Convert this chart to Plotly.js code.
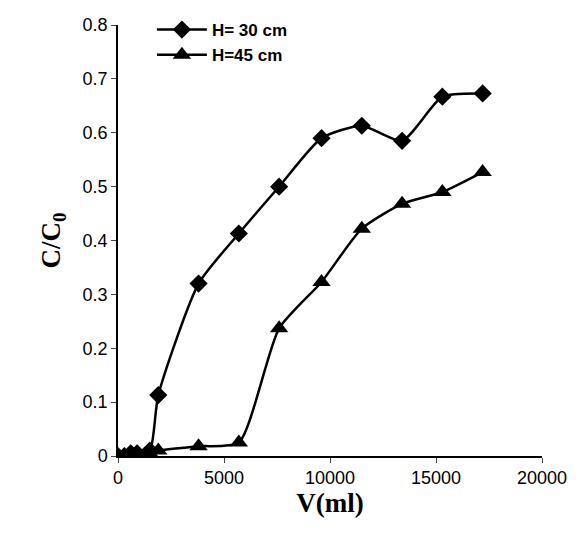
<!DOCTYPE html>
<html><head><script src="https://cdn.plot.ly/plotly-3.0.1.min.js"></script></head>
<body style="margin:0"><div id="plot" style="width:583px;height:537px"></div>
<script>
const volH30 = [0, 300, 600, 900, 1500, 1900, 3800, 5700, 7600, 9600, 11500, 13400, 15300, 17200]
const cH30 = [0, 0, 0.005, 0.005, 0.01, 0.113, 0.32, 0.413, 0.5, 0.59, 0.613, 0.585, 0.667, 0.673]
const volH45 = [0, 300, 600, 900, 1500, 1900, 3800, 5700, 7600, 9600, 11500, 13400, 15300, 17200]
const cH45 = [0, 0, 0, 0, 0.005, 0.01, 0.018, 0.025, 0.237, 0.323, 0.422, 0.468, 0.49, 0.527]
const xTicks = [0, 5000, 10000, 15000, 20000]
const yTicks = [0, 0.1, 0.2, 0.3, 0.4, 0.5, 0.6, 0.7, 0.8]

const font = { family: 'Liberation Sans', size: 18, color: '#000' }
const titleFont = { family: 'Liberation Serif', size: 27, color: '#000', weight: 'bold' }
Plotly.newPlot('plot', [{
  x: volH30, y: cH30, name: 'H= 30 cm', mode: 'lines+markers',
  line: { color: '#000', width: 2.5, shape: 'spline', smoothing: 0.6 },
  marker: { symbol: 'diamond', size: 14, color: '#000' }
}, {
  x: volH45, y: cH45, name: 'H=45 cm', mode: 'lines+markers',
  line: { color: '#000', width: 2.5, shape: 'spline', smoothing: 0.6 },
  marker: { symbol: 'triangle-up', size: 16, color: '#000' }
}], {
  width: 583, height: 537,
  margin: { t: 20, r: 41, l: 118, b: 81 },
  paper_bgcolor: '#fff', plot_bgcolor: '#fff',
  showlegend: true,
  legend: { x: 0.08, y: 1.03, itemwidth: 50, font: { family: 'Liberation Sans', size: 17, color: '#000', weight: 'bold' }, bgcolor: 'rgba(0,0,0,0)' },
  xaxis: {
    range: [0, 20000], tickvals: xTicks, ticktext: xTicks.map(String), ticks: 'outside', ticklen: 5,
    showgrid: false, zeroline: false, showline: true, linecolor: '#000', linewidth: 1.5,
    tickfont: font, title: { text: 'V(ml)', font: titleFont, standoff: 0 }
  },
  yaxis: {
    range: [0, 0.8], tickvals: yTicks, ticktext: yTicks.map(v => v === 0 ? '0' : v.toFixed(1)), ticks: 'outside', ticklen: 5,
    showgrid: false, zeroline: false, showline: true, linecolor: '#000', linewidth: 1.5,
    tickfont: font, title: { text: 'C/C<sub>0</sub>', font: titleFont, standoff: 14 }
  }
}, { displayModeBar: false })
</script></body></html>
